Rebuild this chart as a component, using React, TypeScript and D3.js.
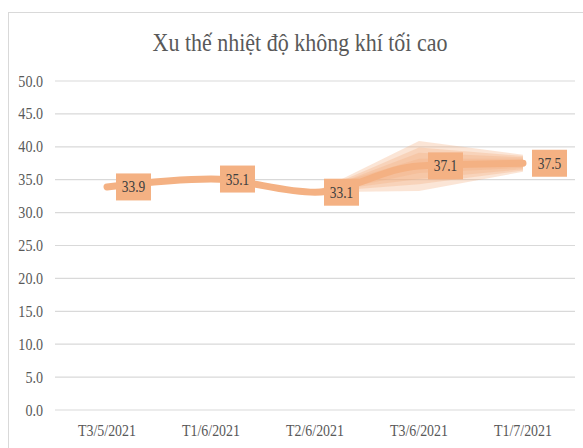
import * as d3 from "d3";

const categories = ["T3/5/2021", "T1/6/2021", "T2/6/2021", "T3/6/2021", "T1/7/2021"];
const tempMax = [33.9, 35.1, 33.1, 37.1, 37.5];
const yTicks = [0, 5, 10, 15, 20, 25, 30, 35, 40, 45, 50];

// forecast fan: spread (°C, each side) for the last three points, outer layer first
const fanCategories = ["T2/6/2021", "T3/6/2021", "T1/7/2021"];
const fanLayers = [
  [0, 3.8, 1.3],
  [0, 2.8, 1.1],
  [0, 2.0, 0.9],
  [0.3, 1.1, 0.7],
];

const W = 583;
const H = 448;
const plot = { left: 55, right: 575, top: 81, bottom: 410 };
const orange = "#f4b183";
const axisColor = "#595959";

type Pt = { c: string; v: number };

export default function App() {
  const x = d3.scaleBand().domain(categories).range([plot.left, plot.right]);
  const cx = (c: string) => (x(c) ?? 0) + x.bandwidth() / 2;
  const y = d3.scaleLinear().domain([0, 50]).range([plot.bottom, plot.top]);

  const points: Pt[] = categories.map((c, i) => ({ c, v: tempMax[i] }));
  const fanData: Pt[] = fanCategories.map(c => ({ c, v: tempMax[categories.indexOf(c)] }));

  const line = d3
    .line<Pt>()
    .x(d => cx(d.c))
    .y(d => y(d.v))
    .curve(d3.curveMonotoneX);

  return (
    <svg
      width={W}
      height={H}
      style={{ position: "absolute", left: 0, top: 0, background: "#fff" }}
      fontFamily="'Liberation Serif', 'Times New Roman', serif"
    >
      <rect x={8.5} y={12.5} width={W + 20} height={H + 20} fill="#fff" stroke="#d9d9d9" />

      <text
        transform={`translate(300,51) scale(0.88,1)`}
        textAnchor="middle"
        fontSize={25}
        fill={axisColor}
      >
        Xu thế nhiệt độ không khí tối cao
      </text>

      {yTicks.map(t => (
        <g key={t}>
          <line x1={plot.left} x2={plot.right} y1={y(t)} y2={y(t)} stroke="#d9d9d9" strokeWidth={1.2} />
          <text
            transform={`translate(43,${y(t) + 5.5}) scale(0.88,1)`}
            textAnchor="end"
            fontSize={16}
            fill={axisColor}
          >
            {t.toFixed(1)}
          </text>
        </g>
      ))}

      {categories.map(c => (
        <text
          key={c}
          transform={`translate(${cx(c)},436) scale(0.82,1)`}
          textAnchor="middle"
          fontSize={17}
          fill={axisColor}
        >
          {c}
        </text>
      ))}

      {fanLayers.map((spread, li) => {
        const area = d3
          .area<Pt>()
          .x(d => cx(d.c))
          .y0((d, i) => y(d.v - spread[i]))
          .y1((d, i) => y(d.v + spread[i]));
        return <path key={li} d={area(fanData) ?? ""} fill={orange} fillOpacity={0.33} />;
      })}

      <path d={line(points) ?? ""} fill="none" stroke={orange} strokeWidth={7} strokeLinecap="round" />

      {points.map(d => (
        <g key={d.c} transform={`translate(${cx(d.c) + 9},${y(d.v)})`}>
          <rect x={0} y={-13.5} width={35} height={27} fill={orange} />
          <text
            transform={`translate(17.5,5.5) scale(0.84,1)`}
            textAnchor="middle"
            fontSize={16}
            fill="#404040"
          >
            {d.v.toFixed(1)}
          </text>
        </g>
      ))}
    </svg>
  );
}
